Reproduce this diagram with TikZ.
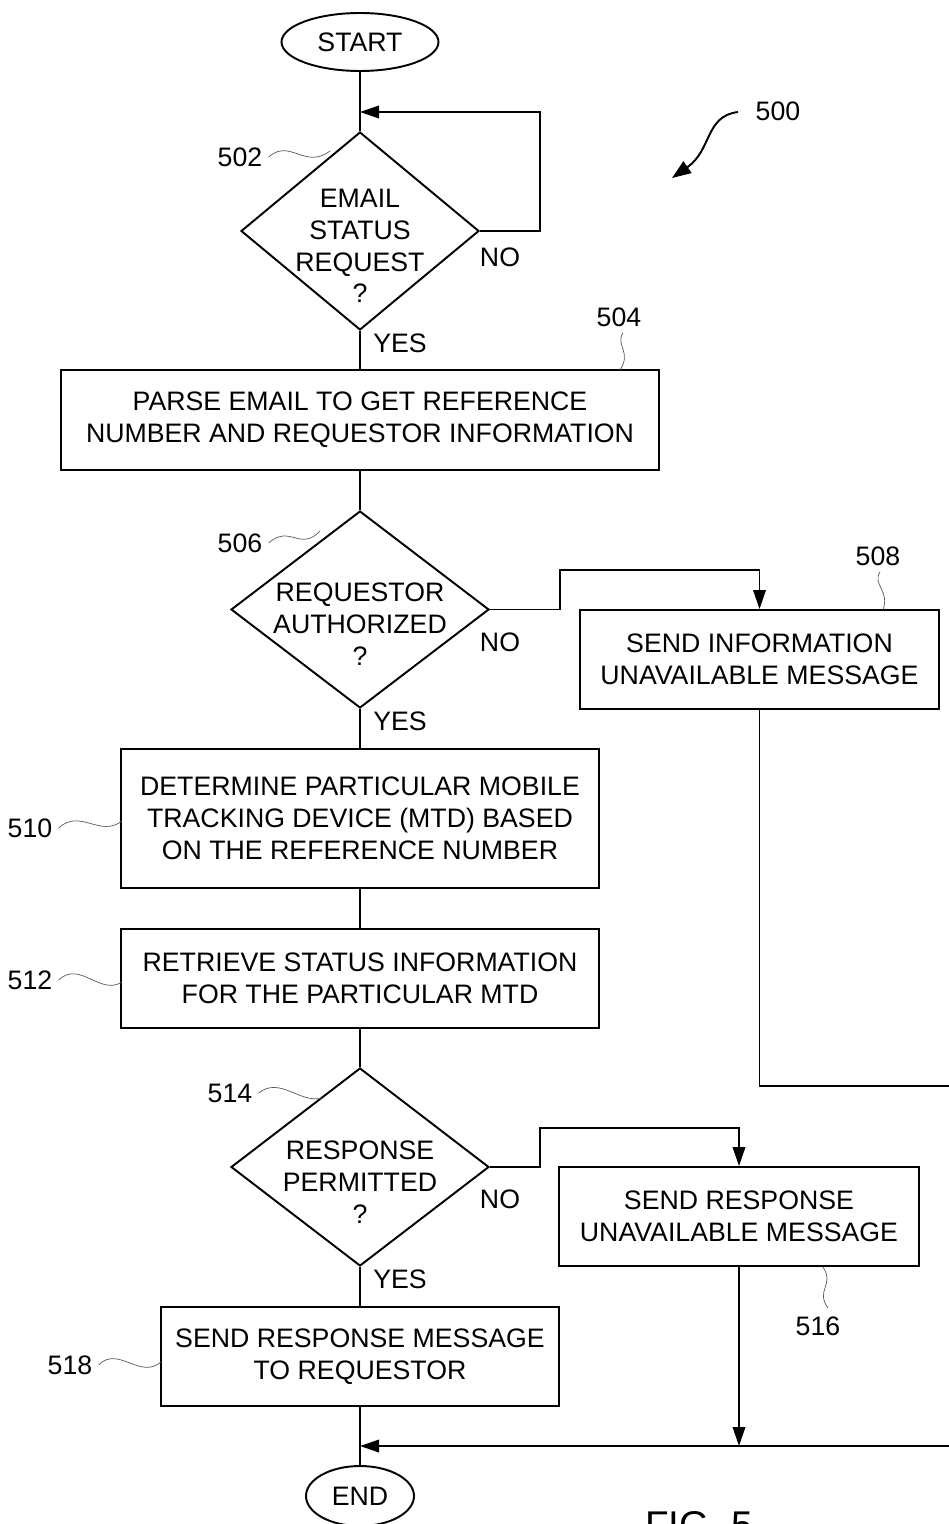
\documentclass[tikz,border=0pt]{standalone}
\usepackage{fontspec}
\setmainfont{Liberation Sans}
\usepackage{tikz}
\usetikzlibrary{shapes.geometric, arrows.meta}
\tikzstyle{startstop} = [draw, ellipse, line width=1.1pt, inner sep=0pt]
\tikzstyle{process} = [draw, rectangle, line width=1.1pt, align=center, inner sep=0pt]
\tikzstyle{decision} = [draw, diamond, line width=1.1pt, inner sep=0pt]
\tikzstyle{txt} = [align=center, inner sep=0pt]
\tikzstyle{line} = [line width=1.1pt]
\tikzstyle{arrow} = [line width=1.1pt,-{Triangle[length=3.8mm,width=2.5mm]}]
\tikzstyle{ref} = [gray!70!black, line width=0.4pt]

\begin{document}
\begin{tikzpicture}[x=0.02cm, y=-0.02cm, every node/.style={font=\fontsize{15.2}{18.1}\selectfont}]
        \useasboundingbox (0,0) rectangle (949,1524);
        \clip (0,0) rectangle (949,1524);

        \node[startstop, minimum width=3.14cm, minimum height=1.16cm] (start) at (360,42) {START};
        \node[decision, minimum width=4.76cm, minimum height=3.96cm] (d502) at (360,231) {};
        \node[txt] at (360,246) {EMAIL\\STATUS\\REQUEST\\?};
        \node[process, minimum width=11.96cm, minimum height=2cm] (b504) at (360,420) {PARSE EMAIL TO GET REFERENCE\\NUMBER AND REQUESTOR INFORMATION};
        \node[decision, minimum width=5.16cm, minimum height=3.94cm] (d506) at (360,609.5) {};
        \node[txt] at (360,624) {REQUESTOR\\AUTHORIZED\\?};
        \node[process, minimum width=7.18cm, minimum height=1.98cm] (b508) at (759.5,659.5) {SEND INFORMATION\\UNAVAILABLE MESSAGE};
        \node[process, minimum width=9.56cm, minimum height=2.78cm] (b510) at (360,818.5) {DETERMINE PARTICULAR MOBILE\\TRACKING DEVICE (MTD) BASED\\ON THE REFERENCE NUMBER};
        \node[process, minimum width=9.56cm, minimum height=1.98cm] (b512) at (360,978.5) {RETRIEVE STATUS INFORMATION\\FOR THE PARTICULAR MTD};
        \node[decision, minimum width=5.16cm, minimum height=3.96cm] (d514) at (360,1167) {};
        \node[txt] at (360,1182) {RESPONSE\\PERMITTED\\?};
        \node[process, minimum width=7.2cm, minimum height=1.98cm] (b516) at (739,1216.5) {SEND RESPONSE\\UNAVAILABLE MESSAGE};
        \node[process, minimum width=7.96cm, minimum height=1.98cm] (b518) at (360,1356.5) {SEND RESPONSE MESSAGE\\TO REQUESTOR};
        \node[startstop, minimum width=2.16cm, minimum height=1.2cm] (end) at (360,1496) {END};

        % Branch labels
        \node[txt] (no502) at (500,257) {NO};
        \node[txt] (yes502) at (400,343) {YES};
        \node[txt] (no506) at (500,642) {NO};
        \node[txt] (yes506) at (400,721) {YES};
        \node[txt] (no514) at (500,1199) {NO};
        \node[txt] (yes514) at (400,1279) {YES};

        % Reference numerals
        \node[txt] (l500) at (778,111) {500};
        \node[txt] (l502) at (240,157) {502};
        \node[txt] (l504) at (619,317) {504};
        \node[txt] (l506) at (240,543) {506};
        \node[txt] (l508) at (878,556) {508};
        \node[txt] (l510) at (30,828) {510};
        \node[txt] (l512) at (30,980) {512};
        \node[txt] (l514) at (230,1093) {514};
        \node[txt] (l516) at (818,1326) {516};
        \node[txt] (l518) at (70,1365) {518};
        \node[txt, anchor=base west, font=\fontsize{22}{24}\selectfont] (fig) at (645,1538) {FIG. 5};

        \coordinate (c500) at (738,112);
        \coordinate (j502) at (360,112);
        \coordinate (j516) at (739,1446);
        \coordinate (j518) at (360,1446);
        \coordinate (r508) at (960,1086);
        \coordinate (r518) at (960,1446);

        % Edges - black
        \draw[line] (start) -- (d502.north);
        \draw[arrow] (d502.east) -- (540,231) -- (540,112) -- (j502);
        \draw[line] (d502.south) -- (b504.north);
        \draw[line] (b504.south) -- (d506.north);
        \draw[arrow] (d506.east) -- (560,609.5) -- (560,570) -| (b508.north);
        \draw[line] (d506.south) -- (b510.north);
        \draw[line] (b510.south) -- (b512.north);
        \draw[line] (b512.south) -- (d514.north);
        \draw[arrow] (d514.east) -- (540,1167) -- (540,1128) -| (b516.north);
        \draw[line] (d514.south) -- (b518.north);
        \draw[line] (b508.south) |- (r508);
        \draw[arrow] (b516.south) -- (j516);
        \draw[arrow] (r518) -- (j518);
        \draw[line] (b518.south) -- (end);

        % Leaders - gray
        \draw[line width=1.1pt, -{Triangle[length=3.8mm,width=2.8mm]}] (c500) .. controls (705,116) and (712,150) .. (672,178);
        \draw[ref] (l502.east) ++(6,0) .. controls (290,138) and (305,170) .. (330,151);
        \draw[ref] (l504.south) ++(4,6) .. controls (615,345) and (632,352) .. (620,370);
        \draw[ref] (l506.east) ++(6,0) .. controls (290,524) and (300,552) .. (320,531);
        \draw[ref] (l508.south) ++(2,6) .. controls (872,585) and (890,590) .. (883,610);
        \draw[ref] (l510.east) ++(6,0) .. controls (80,808) and (100,838) .. (122,821);
        \draw[ref] (l512.east) ++(6,0) .. controls (80,960) and (100,996) .. (122,982);
        \draw[ref] (l514.east) ++(6,0) .. controls (280,1076) and (300,1104) .. (322,1098);
        \draw[ref] (b516.south east) ++(-97,0) .. controls (835,1285) and (815,1290) .. (828,1308);
        \draw[ref] (l518.east) ++(6,0) .. controls (118,1345) and (140,1380) .. (161,1362);
      \end{tikzpicture}
\end{document}
